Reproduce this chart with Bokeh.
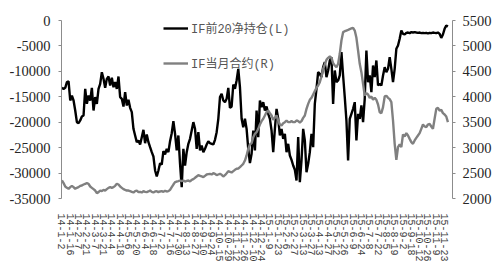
from bokeh.plotting import figure
from bokeh.models import Range1d, LinearAxis, FixedTicker, Legend, LegendItem
from bokeh.embed import file_html
from bokeh.resources import INLINE

# ---- data ----
date_labels = ["14-1-2", "14-1-16", "14-2-7", "14-2-21", "14-3-7", "14-3-21", "14-4-4", "14-4-18",
               "14-5-6", "14-5-20", "14-6-4", "14-6-18", "14-7-2", "14-7-16", "14-7-30", "14-8-13",
               "14-8-27", "14-9-10", "14-9-24", "14-10-15", "14-10-29", "14-11-12", "14-11-26",
               "14-12-10", "14-12-24", "15-1-9", "15-1-23", "15-2-6", "15-2-27", "15-3-13",
               "15-3-27", "15-4-13", "15-4-27", "15-5-12", "15-5-26", "15-6-9", "15-6-24",
               "15-7-8", "15-7-22", "15-8-5", "15-8-19", "15-9-2", "15-9-18", "15-10-12",
               "15-10-26", "15-11-9", "15-11-23"]
label_step = 10          # trading days between two date labels
sample_step = 2          # trading days between two series samples

net_position_top20 = [
    -13240, -13440, -13240, -12120, -11990, -15730, -14750, -15730, -17700, -19990,
    -20190, -19660, -18880, -18680, -13440, -16390, -14750, -15730, -13240, -17700,
    -15070, -16390, -13440, -12450, -10160, -11470, -13240, -11470, -11010, -12780,
    -11270, -13110, -12120, -13440, -11010, -15070, -15400, -16910, -14090, -16710,
    -15600, -17170, -18020, -21300, -22610, -23920, -23590, -24380, -22940, -21500,
    -24120, -22410, -23920, -24910, -25890, -26740, -29490, -30670, -29490, -28050,
    -28310, -25690, -26350, -25230, -25890, -23730, -22150, -19790, -22280, -25560,
    -22610, -28180, -32770, -25230, -28510, -25890, -24250, -23270, -21630, -19990,
    -21300, -25230, -21960, -25560, -24580, -25890, -25230, -24380, -23730, -24120,
    -24250, -24380, -23460, -21960, -19330, -15070, -14420, -15730, -16060, -15400,
    -13240, -17170, -16910, -12580, -13440, -11800, -9500, -13110, -19330, -20970,
    -19330, -21300, -25230, -28050,
    -26220, -21630, -25560, -17700, -22940, -15730, -17040, -16060, -17700, -16910,
    -18350, -19330, -21630, -25890, -21300, -17370, -19330, -22610, -21300, -23270,
    -22280, -25890, -24250, -26540, -27400, -28510, -29360, -31460, -22940, -31790,
    -27530, -21300, -23590, -29820, -28180, -25890, -22280, -24910, -16390, -13440,
    -10160, -10490, -11140, -9180, -8190, -11140, -9830, -7860, -7210, -16390,
    -9830, -12120, -11800, -10810, -6230, -10810, -15070, -19660, -27530, -19330,
    -18350, -17370, -16060, -23590, -18350, -19330, -16710, -19990, -15400, -5900,
    -12120, -10810, -14090, -8850, -11140, -7860, -12780, -12450, -12780, -10810,
    -9180, -10160, -9500, -7210, -9500, -12120, -9500, -5570, -4920, -3600,
    -1970, -2620, -2750, -2420, -2360, -2490, -2290, -2360, -2290, -2360,
    -2420, -2360, -2490, -2420, -2490, -2420, -2560, -2420, -2490, -2360,
    -2420, -2490, -2360, -2620, -3410, -2750, -1640, -980, -1180]

front_month_price = [
    2354, 2302, 2236, 2210, 2190, 2223, 2249, 2223, 2190, 2210,
    2223, 2249, 2256, 2275, 2289, 2302, 2289, 2236, 2210, 2184,
    2157, 2105, 2125, 2157, 2144, 2170, 2157, 2184, 2210, 2223,
    2210, 2223, 2249, 2289, 2275, 2236, 2210, 2184, 2170, 2157,
    2157, 2144, 2131, 2118, 2144, 2157, 2125, 2131, 2118, 2144,
    2131, 2125, 2138, 2157, 2131, 2118, 2138, 2144, 2125, 2138,
    2144, 2131, 2151, 2138, 2144, 2170, 2223, 2275, 2321, 2334,
    2341, 2354, 2341, 2354, 2334, 2347, 2354, 2334, 2367, 2380,
    2407, 2433, 2459, 2446, 2433, 2420, 2446, 2472, 2479, 2485,
    2472, 2498, 2485, 2459, 2472, 2485, 2466, 2433, 2459, 2498,
    2538, 2525, 2512, 2538, 2564, 2584, 2590, 2616, 2649, 2682,
    2747, 2846, 2977, 3062,
    3088, 3206, 3272, 3304, 3370, 3455, 3521, 3567, 3632, 3698,
    3730, 3678, 3632, 3547, 3586, 3632, 3534, 3455, 3435, 3481,
    3501, 3534, 3501, 3501, 3521, 3501, 3501, 3534, 3521, 3495,
    3521, 3586, 3632, 3763, 3861, 3940, 3979, 4045, 4111, 4176,
    4222, 4288, 4399, 4550, 4635, 4727, 4766, 4792, 4766, 4661,
    4615, 4582, 4648, 4845, 5107, 5271, 5290, 5303, 5316, 5330,
    5343, 5356, 5303, 5159, 4910, 4648, 4484, 4255, 4025, 4071,
    4045, 3979, 4006, 3940, 3979, 3940, 3848, 3698, 3678, 3796,
    4006, 4019, 3979, 3953, 3894, 3534, 3075, 2760, 3009, 3062,
    3009, 3259, 3219, 3285, 3239, 3173, 3108, 3075, 3141, 3193,
    3239, 3285, 3370, 3455, 3416, 3403, 3455, 3468, 3416, 3370,
    3567, 3763, 3783, 3730, 3743, 3678, 3652, 3613, 3501]

left_ticks = [-35000, -30000, -25000, -20000, -15000, -10000, -5000, 0]
right_ticks = [2000, 2500, 3000, 3500, 4000, 4500, 5000, 5500]
series_names = ["IF前20净持仓(L)", "IF当月合约(R)"]

# ---- chart ----
days = [i * sample_step for i in range(len(net_position_top20))]
tick_days = [i * label_step for i in range(len(date_labels))]

num_font = "'Liberation Serif', serif"
lab_color = "#262626"

p = figure(width=500, height=275, output_backend="svg", toolbar_location=None,
           x_range=Range1d(-0.5, 469.5), y_range=Range1d(-35000, 0))
p.min_border_left = 61
p.min_border_right = 48
p.min_border_top = 20
p.min_border_bottom = 77
p.outline_line_color = None
p.xgrid.visible = False
p.ygrid.visible = False
p.background_fill_color = "white"
p.border_fill_color = "white"

p.extra_y_ranges = {"right": Range1d(2000, 5500)}

l1 = p.line(days, net_position_top20, line_color="#000000", line_width=2.4)
l2 = p.line(days, front_month_price, line_color="#808080", line_width=2.4, y_range_name="right")

# x axis
xa = p.xaxis[0]
xa.ticker = FixedTicker(ticks=tick_days)
xa.major_label_overrides = {d: s for d, s in zip(tick_days, date_labels)}
xa.major_label_orientation = "vertical"
xa.axis_line_color = None
xa.major_tick_line_color = None
xa.minor_tick_line_color = None
xa.major_label_standoff = 9
xa.major_label_text_font = "'Liberation Mono', monospace"
xa.major_label_text_font_size = "10px"
xa.major_label_text_color = "#404040"

# left axis
ya = p.yaxis[0]
ya.ticker = FixedTicker(ticks=left_ticks)
ya.major_label_overrides = {t: str(t) for t in left_ticks}
ya.axis_line_color = "#8c8c8c"
ya.major_tick_line_color = "#8c8c8c"
ya.major_tick_in = 0
ya.major_tick_out = 3
ya.minor_tick_line_color = None
ya.major_label_standoff = 8
ya.major_label_text_font = num_font
ya.major_label_text_font_size = "14.5px"
ya.major_label_text_color = lab_color

# right axis
ra = LinearAxis(y_range_name="right")
ra.ticker = FixedTicker(ticks=right_ticks)
ra.major_label_overrides = {t: str(t) for t in right_ticks}
ra.axis_line_color = "#8c8c8c"
ra.major_tick_line_color = "#8c8c8c"
ra.major_tick_in = 0
ra.major_tick_out = 3
ra.minor_tick_line_color = None
ra.major_label_standoff = 7
ra.major_label_text_font = num_font
ra.major_label_text_font_size = "14.5px"
ra.major_label_text_color = lab_color
p.add_layout(ra, "right")

legend = Legend(items=[LegendItem(label=series_names[0], renderers=[l1]),
                       LegendItem(label=series_names[1], renderers=[l2])],
                location=(102, 125))
legend.border_line_color = None
legend.background_fill_alpha = 0
legend.padding = 0
legend.margin = 0
legend.spacing = 15
legend.glyph_width = 25
legend.glyph_height = 20
legend.label_height = 20
legend.label_standoff = 3
legend.label_text_font = "'Liberation Mono', 'Noto Sans CJK SC'"
legend.label_text_font_size = "12px"
legend.label_text_color = "#555555"
p.add_layout(legend, "center")

open("out.html", "w").write(file_html(p, INLINE))
